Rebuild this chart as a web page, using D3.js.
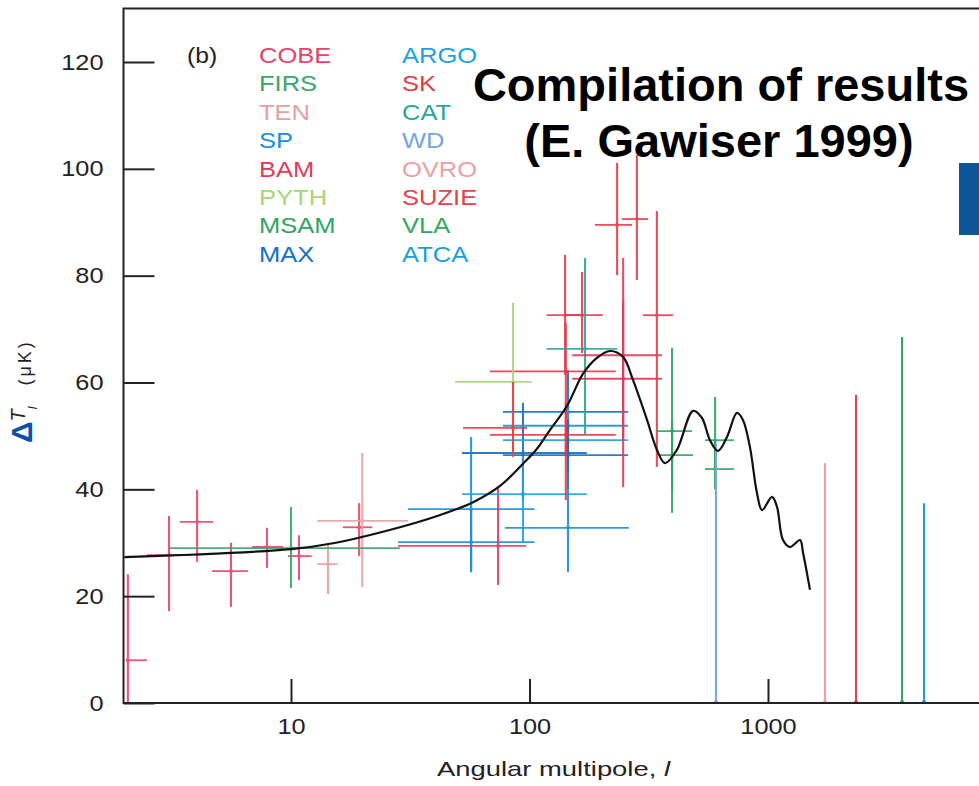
<!DOCTYPE html>
<html>
<head>
<meta charset="utf-8">
<script src="https://cdn.jsdelivr.net/npm/d3@7"></script>
<style>
  body { margin: 0; background: #fff; }
  text { font-family: "Liberation Sans", Arial, sans-serif; }
</style>
</head>
<body>
<div id="chart-area"></div>
<script>
// experiments and their legend colours
var experiments = ["COBE", "FIRS", "TEN", "SP", "BAM", "PYTH", "MSAM", "MAX",
                   "ARGO", "SK", "CAT", "WD", "OVRO", "SUZIE", "VLA", "ATCA"];
var expColors = ["#e8436a", "#3aa66a", "#e8a0a0", "#1a8fd6", "#e23a5a", "#a4d67a", "#2ea465", "#1270c4",
                 "#1aa3e0", "#e83a48", "#2aa59a", "#74a6de", "#eea0a0", "#e8404e", "#2faa5a", "#1a9fdc"];

// detections: experiment, multipole l (centre, low, high), dT (centre, low, high) in uK
var ptExp = ["COBE", "COBE", "COBE", "COBE", "COBE", "COBE", "TEN", "COBE", "TEN", "FIRS",
             "SP", "SP", "BAM", "MAX", "ARGO", "MAX", "SP", "ARGO", "MAX", "SP",
             "SK", "SK", "PYTH", "SK", "SK", "SK", "CAT", "BAM", "BAM", "SK",
             "SK", "SK", "MSAM", "MSAM", "MSAM", "MSAM"];
var ptL   = [2.07, 3.08, 4.04, 5.6, 7.93, 10.8, 14.3, 19.3, 19.9, 10,
             56.9, 56.9, 73.8, 93.9, 93.9, 145, 145, 145, 145, 145,
             142, 142, 85.3, 85.3, 141, 166, 171, 247, 247, 233,
             282, 342, 396, 396, 600, 600];
var ptLlo = [2.07, 2.49, 3.42, 4.67, 6.86, 9.71, 12.9, 16.5, 12.9, 3.08,
             30.9, 28.1, 28.1, 52.1, 52.1, 77.4, 77.4, 77.4, 77.4, 78.9,
             68.3, 68.3, 48.7, 52.6, 118, 141, 118, 151, 151, 188,
             244, 299, 339, 352, 544, 544];
var ptLhi = [2.49, 3.77, 4.71, 6.6, 9.26, 12.2, 15.7, 21.9, 30.9, 28.6,
             105, 105, 96.6, 174, 174, 259, 259, 259, 259, 261,
             230, 230, 102, 97.6, 168, 203, 233, 359, 359, 269,
             314, 400, 480, 485, 720, 720];
var ptT   = [8.0, 27.7, 33.9, 24.7, 29.2, 27.5, 26.0, 32.9, 34.1, 29.0,
             36.3, 30.1, 29.4, 46.8, 39.1, 54.5, 51.9, 49.2, 46.4, 32.8,
             62.1, 50.2, 60.1, 51.5, 72.6, 72.6, 66.3, 65.1, 60.7, 89.5,
             90.6, 72.6, 50.9, 46.4, 49.2, 43.8];
var ptTlo = [0, 17.2, 26.4, 18.0, 25.3, 23.0, 20.4, 27.5, 21.7, 21.5,
             24.5, 24.5, 22.1, 38.0, 30.1, 46.4, 46.4, 43.0, 40.0, 24.5,
             46.4, 38.0, 46.1, 46.1, 61.4, 65.5, 50.2, 49.2, 40.4, 80.1,
             79.2, 44.2, 35.6, 39.9, 43.6, 40.0];
var ptThi = [24.1, 35.0, 39.9, 30.0, 32.8, 31.4, 30.0, 37.4, 46.8, 36.7,
             49.8, 36.3, 40.2, 56.2, 46.4, 62.3, 57.5, 55.0, 53.0, 40.8,
             71.1, 56.2, 74.9, 60.1, 83.9, 80.7, 83.3, 83.3, 75.4, 101.1,
             102.6, 92.1, 66.5, 53.0, 57.3, 49.2];

// upper limits at high l
var limExp = ["WD", "OVRO", "SUZIE", "VLA", "ATCA"];
var limL   = [605, 1734, 2339, 3647, 4508];
var limT   = [48.5, 44.9, 57.7, 68.5, 37.4];

// theory curve
var thL = [2, 10, 15, 28.6, 42.2, 58, 75, 93, 107.5, 121.8, 143.6, 167.5, 191.7, 217.5,
           246.6, 271.5, 311, 342, 370, 415, 485, 528, 571, 617, 673, 741, 785, 840, 899, 944,
           1040, 1091, 1156, 1237, 1362, 1403, 1500];
var thT = [27.3, 28.8, 29.9, 32.9, 35.2, 37.6, 40.6, 44.6, 47.6, 51.1, 55.6, 61.6, 64.6, 65.9,
           64.8, 60.5, 53.0, 47.4, 44.9, 47.4, 54.7, 53.4, 49.2, 47.2, 49.8, 54.3, 53.0, 47.9, 39.3, 36.1,
           38.6, 36.7, 30.5, 29.2, 30.5, 28.1, 21.2];

var yTicks = [0, 20, 40, 60, 80, 100, 120];
var xTicks = [10, 100, 1000];

var width = 979, height = 786;

var svg = d3.select("#chart-area").append("svg")
    .attr("width", width)
    .attr("height", height);

var x = d3.scaleLog().domain([10, 1000]).range([291, 768]);
var y = d3.scaleLinear().domain([0, 120]).range([703, 62]);
var color = d3.scaleOrdinal(experiments, expColors);

var frameLeft = 123.5, frameBottom = 703, frameTop = 8.5;

function stretch(sel, k) {
    sel.each(function() {
        var n = this.getComputedTextLength();
        d3.select(this).attr("textLength", n * k).attr("lengthAdjust", "spacingAndGlyphs");
    });
}

// error bars
var points = ptExp.map((e, i) => ({exp: e, l: ptL[i], llo: ptLlo[i], lhi: ptLhi[i],
                                    t: ptT[i], tlo: ptTlo[i], thi: ptThi[i]}));
var bars = svg.append("g").attr("class", "bars");
var pg = bars.selectAll("g.pt").data(points).enter().append("g")
    .attr("class", "pt")
    .attr("stroke", d => color(d.exp))
    .attr("fill", d => color(d.exp))
    .attr("opacity", 0.9);
pg.append("line")
    .attr("x1", d => x(d.llo)).attr("x2", d => x(d.lhi))
    .attr("y1", d => y(d.t)).attr("y2", d => y(d.t))
    .attr("stroke-width", 1.8);
pg.append("line")
    .attr("x1", d => x(d.l)).attr("x2", d => x(d.l))
    .attr("y1", d => y(d.tlo)).attr("y2", d => y(d.thi))
    .attr("stroke-width", 2.1);
pg.append("circle")
    .attr("cx", d => x(d.l)).attr("cy", d => y(d.t))
    .attr("r", 2).attr("stroke", "none");

// upper limits
var lims = limExp.map((e, i) => ({exp: e, l: limL[i], t: limT[i]}));
var lg = bars.selectAll("g.lim").data(lims).enter().append("g")
    .attr("class", "lim")
    .attr("stroke", d => color(d.exp))
    .attr("fill", d => color(d.exp));
lg.append("line")
    .attr("x1", d => x(d.l)).attr("x2", d => x(d.l))
    .attr("y1", y(0)).attr("y2", d => y(d.t))
    .attr("stroke-width", 2);
lg.append("circle")
    .attr("cx", d => x(d.l)).attr("cy", y(0) - 1)
    .attr("r", 2).attr("stroke", "none");

// theory
var line = d3.line()
    .x(d => x(d[0]))
    .y(d => y(d[1]))
    .curve(d3.curveCatmullRom.alpha(0.5));
svg.append("path")
    .datum(thL.map((l, i) => [l, thT[i]]))
    .attr("d", line)
    .attr("fill", "none")
    .attr("stroke", "#111")
    .attr("stroke-width", 2.2);

// frame
svg.append("path")
    .attr("d", "M" + width + "," + frameTop + "H" + frameLeft + "V" + frameBottom + "H" + width)
    .attr("fill", "none")
    .attr("stroke", "#222")
    .attr("stroke-width", 2);

// axes
var yAxisCall = d3.axisLeft(y).tickValues(yTicks).tickSize(-31).tickPadding(20).tickSizeOuter(0);
var yAxis = svg.append("g")
    .attr("class", "y axis")
    .attr("transform", "translate(" + frameLeft + ",0)")
    .call(yAxisCall);
var xAxisCall = d3.axisBottom(x).tickValues(xTicks).tickFormat(d3.format("d"))
    .tickSize(-24).tickPadding(15).tickSizeOuter(0);
var xAxis = svg.append("g")
    .attr("class", "x axis")
    .attr("transform", "translate(0," + frameBottom + ")")
    .call(xAxisCall);
svg.selectAll(".axis .domain").remove();
svg.selectAll(".axis line").attr("stroke", "#222").attr("stroke-width", 2);
svg.selectAll(".axis text")
    .attr("font-family", "Liberation Sans, Arial, sans-serif")
    .attr("font-size", 22)
    .attr("fill", "#222");
stretch(svg.selectAll(".axis text"), 1.15);

// axis titles
var xt = svg.append("text")
    .attr("x", 437).attr("y", 776)
    .attr("font-size", 21)
    .attr("fill", "#222");
xt.append("tspan").text("Angular multipole,  ");
xt.append("tspan").attr("font-style", "italic").text("l");
xt.attr("textLength", 233).attr("lengthAdjust", "spacingAndGlyphs");

var yt = svg.append("text")
    .attr("transform", "translate(32,443) rotate(-90)")
    .attr("fill", "#222");
yt.append("tspan").attr("font-size", 30).attr("font-weight", "bold").attr("fill", "#0a52a8").text("Δ");
yt.append("tspan").attr("font-size", 20).attr("font-style", "italic").attr("dy", -7).text("T");
yt.append("tspan").attr("font-size", 12).attr("font-style", "italic").attr("dy", 12).text("l");
yt.append("tspan").attr("font-size", 18).attr("letter-spacing", 3).attr("dx", 21).attr("dy", -6).text("(μK)");

// legend
var bl = svg.append("text")
    .attr("x", 187).attr("y", 63)
    .attr("font-size", 22)
    .attr("fill", "#222")
    .text("(b)");
stretch(bl, 1.12);
var leg = svg.append("g").attr("class", "legend");
leg.selectAll("text").data(experiments).enter().append("text")
    .attr("x", (d, i) => i < 8 ? 259 : 402)
    .attr("y", (d, i) => 63 + (i % 8) * 28.4)
    .attr("font-size", 22)
    .attr("fill", d => color(d))
    .text(d => d);
stretch(leg.selectAll("text"), 1.16);

// slide overlay
svg.append("rect")
    .attr("x", 959).attr("y", 163)
    .attr("width", 20).attr("height", 72)
    .attr("fill", "#0b5599");

var title = svg.append("g").attr("class", "title");
title.append("text")
    .attr("x", 721).attr("y", 101)
    .attr("text-anchor", "middle")
    .attr("font-size", 47).attr("font-weight", "bold")
    .attr("fill", "#000")
    .text("Compilation of results");
title.append("text")
    .attr("x", 719).attr("y", 157)
    .attr("text-anchor", "middle")
    .attr("font-size", 47).attr("font-weight", "bold")
    .attr("fill", "#000")
    .text("(E. Gawiser 1999)");
</script>
</body>
</html>
